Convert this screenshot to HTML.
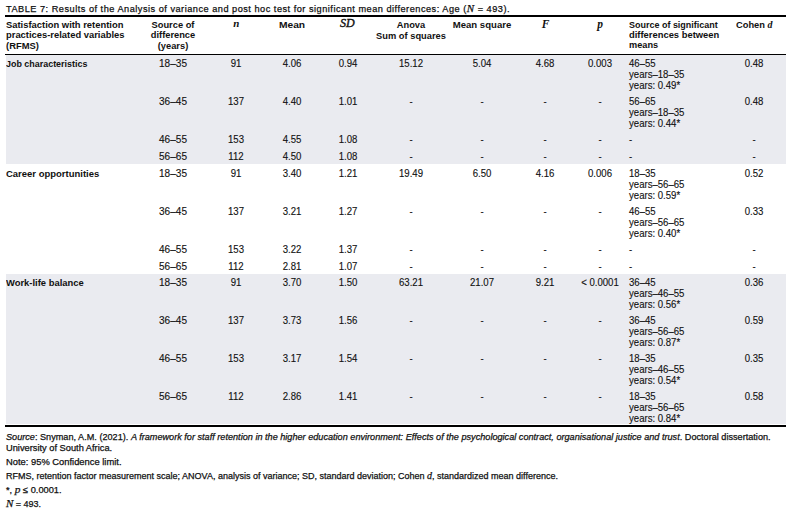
<!DOCTYPE html>
<html><head><meta charset="utf-8"><style>
html,body{margin:0;padding:0;background:#fff;}
body{width:792px;height:511px;position:relative;overflow:hidden;font-family:"Liberation Sans",sans-serif;color:#111;}
.t{position:absolute;white-space:nowrap;}
.r{position:absolute;}
.m{font-family:"Liberation Serif",serif;font-style:italic;}
</style></head><body>
<div class="r" style="left:6px;top:55px;width:780px;height:109px;background:#eaebf0"></div>
<div class="r" style="left:6px;top:274px;width:780px;height:150px;background:#eaebf0"></div>
<div class="r" style="left:5px;top:15px;width:781px;height:2px;background:#000"></div>
<div class="r" style="left:5px;top:54px;width:781px;height:1px;background:#000"></div>
<div class="r" style="left:5px;top:425px;width:781px;height:2px;background:#000"></div>
<div class="t" style="top:3.31px;left:6.00px;font-size:9.2px;line-height:11px;letter-spacing:0.5px;-webkit-text-stroke:0.25px #111;">TABLE 7: Results of the Analysis of variance and post hoc test for significant mean differences: Age (<span class="m" style="font-size:11px">N</span> = 493).</div>
<div class="t" style="top:19.93px;left:6.00px;font-size:9.8px;line-height:10.35px;font-weight:bold;transform:scaleX(0.9585);transform-origin:0 0;">Satisfaction with retention<br>practices-related variables<br>(RFMS)</div>
<div class="t" style="top:19.80px;left:23.40px;width:300px;text-align:center;font-size:9.8px;line-height:10.6px;font-weight:bold;transform:scaleX(0.9490);transform-origin:50% 0;">Source of<br>difference<br>(years)</div>
<div class="t" style="top:18.29px;left:86.40px;width:300px;text-align:center;font-size:11px;line-height:11px;font-weight:bold;font-style:italic;font-family:'Liberation Serif',serif;">n</div>
<div class="t" style="top:19.40px;left:142.40px;width:300px;text-align:center;font-size:9.8px;line-height:11px;font-weight:bold;transform:scaleX(1.0439);transform-origin:50% 0;">Mean</div>
<div class="t" style="top:18.34px;left:197.40px;width:300px;text-align:center;font-size:12px;line-height:11px;font-style:italic;font-family:'Liberation Serif',serif;-webkit-text-stroke:0.4px #111;">SD</div>
<div class="t" style="top:19.40px;left:260.80px;width:300px;text-align:center;font-size:9.8px;line-height:11px;font-weight:bold;transform:scaleX(0.9490);transform-origin:50% 0;">Anova<br>Sum of squares</div>
<div class="t" style="top:19.40px;left:331.60px;width:300px;text-align:center;font-size:9.8px;line-height:11px;font-weight:bold;transform:scaleX(0.9774);transform-origin:50% 0;">Mean square</div>
<div class="t" style="top:18.62px;left:395.50px;width:300px;text-align:center;font-size:11.5px;line-height:11px;font-weight:bold;font-style:italic;font-family:'Liberation Serif',serif;">F</div>
<div class="t" style="top:19.02px;left:450.00px;width:300px;text-align:center;font-size:11.5px;line-height:11px;font-weight:bold;font-style:italic;font-family:'Liberation Serif',serif;">p</div>
<div class="t" style="top:19.40px;left:628.70px;font-size:9.8px;line-height:11px;font-weight:bold;transform:scaleX(0.9160);transform-origin:0 0;">Source of significant</div>
<div class="t" style="top:29.20px;left:628.70px;font-size:9.8px;line-height:11px;font-weight:bold;transform:scaleX(0.9583);transform-origin:0 0;">differences between</div>
<div class="t" style="top:39.20px;left:628.70px;font-size:9.8px;line-height:11px;font-weight:bold;transform:scaleX(0.9395);transform-origin:0 0;">means</div>
<div class="t" style="top:19.40px;left:736.20px;font-size:9.8px;line-height:11px;font-weight:bold;transform:scaleX(0.9490);transform-origin:0 0;">Cohen <span class="m" style="font-size:10.5px">d</span></div>
<div class="t" style="top:58.10px;left:6.00px;font-size:9.8px;line-height:11px;font-weight:bold;transform:scaleX(0.9110);transform-origin:0 0;">Job characteristics</div>
<div class="t" style="top:58.00px;left:23.20px;width:300px;text-align:center;font-size:10.1px;line-height:11px;-webkit-text-stroke:0.12px #111;transform:scaleX(0.9975);transform-origin:50% 0;">18–35</div>
<div class="t" style="top:58.00px;left:86.40px;width:300px;text-align:center;font-size:10.1px;line-height:11px;-webkit-text-stroke:0.12px #111;transform:scaleX(0.9500);transform-origin:50% 0;">91</div>
<div class="t" style="top:58.00px;left:142.10px;width:300px;text-align:center;font-size:10.1px;line-height:11px;-webkit-text-stroke:0.12px #111;transform:scaleX(0.9500);transform-origin:50% 0;">4.06</div>
<div class="t" style="top:58.00px;left:197.60px;width:300px;text-align:center;font-size:10.1px;line-height:11px;-webkit-text-stroke:0.12px #111;transform:scaleX(0.9500);transform-origin:50% 0;">0.94</div>
<div class="t" style="top:58.00px;left:261.00px;width:300px;text-align:center;font-size:10.1px;line-height:11px;-webkit-text-stroke:0.12px #111;transform:scaleX(0.9500);transform-origin:50% 0;">15.12</div>
<div class="t" style="top:58.00px;left:331.80px;width:300px;text-align:center;font-size:10.1px;line-height:11px;-webkit-text-stroke:0.12px #111;transform:scaleX(0.9500);transform-origin:50% 0;">5.04</div>
<div class="t" style="top:58.00px;left:394.90px;width:300px;text-align:center;font-size:10.1px;line-height:11px;-webkit-text-stroke:0.12px #111;transform:scaleX(0.9500);transform-origin:50% 0;">4.68</div>
<div class="t" style="top:58.00px;left:450.20px;width:300px;text-align:center;font-size:10.1px;line-height:11px;-webkit-text-stroke:0.12px #111;transform:scaleX(0.9500);transform-origin:50% 0;">0.003</div>
<div class="t" style="top:58.00px;left:628.60px;font-size:10.1px;line-height:11px;-webkit-text-stroke:0.12px #111;transform:scaleX(0.9500);transform-origin:0 0;">46–55<br>years–18–35<br>years: 0.49*</div>
<div class="t" style="top:58.00px;left:603.70px;width:300px;text-align:center;font-size:10.1px;line-height:11px;-webkit-text-stroke:0.12px #111;transform:scaleX(0.9500);transform-origin:50% 0;">0.48</div>
<div class="t" style="top:96.00px;left:23.20px;width:300px;text-align:center;font-size:10.1px;line-height:11px;-webkit-text-stroke:0.12px #111;transform:scaleX(0.9975);transform-origin:50% 0;">36–45</div>
<div class="t" style="top:96.00px;left:86.40px;width:300px;text-align:center;font-size:10.1px;line-height:11px;-webkit-text-stroke:0.12px #111;transform:scaleX(0.9500);transform-origin:50% 0;">137</div>
<div class="t" style="top:96.00px;left:142.10px;width:300px;text-align:center;font-size:10.1px;line-height:11px;-webkit-text-stroke:0.12px #111;transform:scaleX(0.9500);transform-origin:50% 0;">4.40</div>
<div class="t" style="top:96.00px;left:197.60px;width:300px;text-align:center;font-size:10.1px;line-height:11px;-webkit-text-stroke:0.12px #111;transform:scaleX(0.9500);transform-origin:50% 0;">1.01</div>
<div class="t" style="top:96.00px;left:261.00px;width:300px;text-align:center;font-size:10.1px;line-height:11px;-webkit-text-stroke:0.12px #111;transform:scaleX(0.9500);transform-origin:50% 0;">-</div>
<div class="t" style="top:96.00px;left:331.80px;width:300px;text-align:center;font-size:10.1px;line-height:11px;-webkit-text-stroke:0.12px #111;transform:scaleX(0.9500);transform-origin:50% 0;">-</div>
<div class="t" style="top:96.00px;left:394.90px;width:300px;text-align:center;font-size:10.1px;line-height:11px;-webkit-text-stroke:0.12px #111;transform:scaleX(0.9500);transform-origin:50% 0;">-</div>
<div class="t" style="top:96.00px;left:450.20px;width:300px;text-align:center;font-size:10.1px;line-height:11px;-webkit-text-stroke:0.12px #111;transform:scaleX(0.9500);transform-origin:50% 0;">-</div>
<div class="t" style="top:96.00px;left:628.60px;font-size:10.1px;line-height:11px;-webkit-text-stroke:0.12px #111;transform:scaleX(0.9500);transform-origin:0 0;">56–65<br>years–18–35<br>years: 0.44*</div>
<div class="t" style="top:96.00px;left:603.70px;width:300px;text-align:center;font-size:10.1px;line-height:11px;-webkit-text-stroke:0.12px #111;transform:scaleX(0.9500);transform-origin:50% 0;">0.48</div>
<div class="t" style="top:134.00px;left:23.20px;width:300px;text-align:center;font-size:10.1px;line-height:11px;-webkit-text-stroke:0.12px #111;transform:scaleX(0.9975);transform-origin:50% 0;">46–55</div>
<div class="t" style="top:134.00px;left:86.40px;width:300px;text-align:center;font-size:10.1px;line-height:11px;-webkit-text-stroke:0.12px #111;transform:scaleX(0.9500);transform-origin:50% 0;">153</div>
<div class="t" style="top:134.00px;left:142.10px;width:300px;text-align:center;font-size:10.1px;line-height:11px;-webkit-text-stroke:0.12px #111;transform:scaleX(0.9500);transform-origin:50% 0;">4.55</div>
<div class="t" style="top:134.00px;left:197.60px;width:300px;text-align:center;font-size:10.1px;line-height:11px;-webkit-text-stroke:0.12px #111;transform:scaleX(0.9500);transform-origin:50% 0;">1.08</div>
<div class="t" style="top:134.00px;left:261.00px;width:300px;text-align:center;font-size:10.1px;line-height:11px;-webkit-text-stroke:0.12px #111;transform:scaleX(0.9500);transform-origin:50% 0;">-</div>
<div class="t" style="top:134.00px;left:331.80px;width:300px;text-align:center;font-size:10.1px;line-height:11px;-webkit-text-stroke:0.12px #111;transform:scaleX(0.9500);transform-origin:50% 0;">-</div>
<div class="t" style="top:134.00px;left:394.90px;width:300px;text-align:center;font-size:10.1px;line-height:11px;-webkit-text-stroke:0.12px #111;transform:scaleX(0.9500);transform-origin:50% 0;">-</div>
<div class="t" style="top:134.00px;left:450.20px;width:300px;text-align:center;font-size:10.1px;line-height:11px;-webkit-text-stroke:0.12px #111;transform:scaleX(0.9500);transform-origin:50% 0;">-</div>
<div class="t" style="top:134.00px;left:628.60px;font-size:10.1px;line-height:11px;-webkit-text-stroke:0.12px #111;transform:scaleX(0.9500);transform-origin:0 0;">-</div>
<div class="t" style="top:134.00px;left:603.70px;width:300px;text-align:center;font-size:10.1px;line-height:11px;-webkit-text-stroke:0.12px #111;transform:scaleX(0.9500);transform-origin:50% 0;">-</div>
<div class="t" style="top:150.60px;left:23.20px;width:300px;text-align:center;font-size:10.1px;line-height:11px;-webkit-text-stroke:0.12px #111;transform:scaleX(0.9975);transform-origin:50% 0;">56–65</div>
<div class="t" style="top:150.60px;left:86.40px;width:300px;text-align:center;font-size:10.1px;line-height:11px;-webkit-text-stroke:0.12px #111;transform:scaleX(0.9500);transform-origin:50% 0;">112</div>
<div class="t" style="top:150.60px;left:142.10px;width:300px;text-align:center;font-size:10.1px;line-height:11px;-webkit-text-stroke:0.12px #111;transform:scaleX(0.9500);transform-origin:50% 0;">4.50</div>
<div class="t" style="top:150.60px;left:197.60px;width:300px;text-align:center;font-size:10.1px;line-height:11px;-webkit-text-stroke:0.12px #111;transform:scaleX(0.9500);transform-origin:50% 0;">1.08</div>
<div class="t" style="top:150.60px;left:261.00px;width:300px;text-align:center;font-size:10.1px;line-height:11px;-webkit-text-stroke:0.12px #111;transform:scaleX(0.9500);transform-origin:50% 0;">-</div>
<div class="t" style="top:150.60px;left:331.80px;width:300px;text-align:center;font-size:10.1px;line-height:11px;-webkit-text-stroke:0.12px #111;transform:scaleX(0.9500);transform-origin:50% 0;">-</div>
<div class="t" style="top:150.60px;left:394.90px;width:300px;text-align:center;font-size:10.1px;line-height:11px;-webkit-text-stroke:0.12px #111;transform:scaleX(0.9500);transform-origin:50% 0;">-</div>
<div class="t" style="top:150.60px;left:450.20px;width:300px;text-align:center;font-size:10.1px;line-height:11px;-webkit-text-stroke:0.12px #111;transform:scaleX(0.9500);transform-origin:50% 0;">-</div>
<div class="t" style="top:150.60px;left:628.60px;font-size:10.1px;line-height:11px;-webkit-text-stroke:0.12px #111;transform:scaleX(0.9500);transform-origin:0 0;">-</div>
<div class="t" style="top:150.60px;left:603.70px;width:300px;text-align:center;font-size:10.1px;line-height:11px;-webkit-text-stroke:0.12px #111;transform:scaleX(0.9500);transform-origin:50% 0;">-</div>
<div class="t" style="top:168.10px;left:6.00px;font-size:9.8px;line-height:11px;font-weight:bold;transform:scaleX(0.9680);transform-origin:0 0;">Career opportunities</div>
<div class="t" style="top:168.00px;left:23.20px;width:300px;text-align:center;font-size:10.1px;line-height:11px;-webkit-text-stroke:0.12px #111;transform:scaleX(0.9975);transform-origin:50% 0;">18–35</div>
<div class="t" style="top:168.00px;left:86.40px;width:300px;text-align:center;font-size:10.1px;line-height:11px;-webkit-text-stroke:0.12px #111;transform:scaleX(0.9500);transform-origin:50% 0;">91</div>
<div class="t" style="top:168.00px;left:142.10px;width:300px;text-align:center;font-size:10.1px;line-height:11px;-webkit-text-stroke:0.12px #111;transform:scaleX(0.9500);transform-origin:50% 0;">3.40</div>
<div class="t" style="top:168.00px;left:197.60px;width:300px;text-align:center;font-size:10.1px;line-height:11px;-webkit-text-stroke:0.12px #111;transform:scaleX(0.9500);transform-origin:50% 0;">1.21</div>
<div class="t" style="top:168.00px;left:261.00px;width:300px;text-align:center;font-size:10.1px;line-height:11px;-webkit-text-stroke:0.12px #111;transform:scaleX(0.9500);transform-origin:50% 0;">19.49</div>
<div class="t" style="top:168.00px;left:331.80px;width:300px;text-align:center;font-size:10.1px;line-height:11px;-webkit-text-stroke:0.12px #111;transform:scaleX(0.9500);transform-origin:50% 0;">6.50</div>
<div class="t" style="top:168.00px;left:394.90px;width:300px;text-align:center;font-size:10.1px;line-height:11px;-webkit-text-stroke:0.12px #111;transform:scaleX(0.9500);transform-origin:50% 0;">4.16</div>
<div class="t" style="top:168.00px;left:450.20px;width:300px;text-align:center;font-size:10.1px;line-height:11px;-webkit-text-stroke:0.12px #111;transform:scaleX(0.9500);transform-origin:50% 0;">0.006</div>
<div class="t" style="top:168.00px;left:628.60px;font-size:10.1px;line-height:11px;-webkit-text-stroke:0.12px #111;transform:scaleX(0.9500);transform-origin:0 0;">18–35<br>years–56–65<br>years: 0.59*</div>
<div class="t" style="top:168.00px;left:603.70px;width:300px;text-align:center;font-size:10.1px;line-height:11px;-webkit-text-stroke:0.12px #111;transform:scaleX(0.9500);transform-origin:50% 0;">0.52</div>
<div class="t" style="top:206.00px;left:23.20px;width:300px;text-align:center;font-size:10.1px;line-height:11px;-webkit-text-stroke:0.12px #111;transform:scaleX(0.9975);transform-origin:50% 0;">36–45</div>
<div class="t" style="top:206.00px;left:86.40px;width:300px;text-align:center;font-size:10.1px;line-height:11px;-webkit-text-stroke:0.12px #111;transform:scaleX(0.9500);transform-origin:50% 0;">137</div>
<div class="t" style="top:206.00px;left:142.10px;width:300px;text-align:center;font-size:10.1px;line-height:11px;-webkit-text-stroke:0.12px #111;transform:scaleX(0.9500);transform-origin:50% 0;">3.21</div>
<div class="t" style="top:206.00px;left:197.60px;width:300px;text-align:center;font-size:10.1px;line-height:11px;-webkit-text-stroke:0.12px #111;transform:scaleX(0.9500);transform-origin:50% 0;">1.27</div>
<div class="t" style="top:206.00px;left:261.00px;width:300px;text-align:center;font-size:10.1px;line-height:11px;-webkit-text-stroke:0.12px #111;transform:scaleX(0.9500);transform-origin:50% 0;">-</div>
<div class="t" style="top:206.00px;left:331.80px;width:300px;text-align:center;font-size:10.1px;line-height:11px;-webkit-text-stroke:0.12px #111;transform:scaleX(0.9500);transform-origin:50% 0;">-</div>
<div class="t" style="top:206.00px;left:394.90px;width:300px;text-align:center;font-size:10.1px;line-height:11px;-webkit-text-stroke:0.12px #111;transform:scaleX(0.9500);transform-origin:50% 0;">-</div>
<div class="t" style="top:206.00px;left:450.20px;width:300px;text-align:center;font-size:10.1px;line-height:11px;-webkit-text-stroke:0.12px #111;transform:scaleX(0.9500);transform-origin:50% 0;">-</div>
<div class="t" style="top:206.00px;left:628.60px;font-size:10.1px;line-height:11px;-webkit-text-stroke:0.12px #111;transform:scaleX(0.9500);transform-origin:0 0;">46–55<br>years–56–65<br>years: 0.40*</div>
<div class="t" style="top:206.00px;left:603.70px;width:300px;text-align:center;font-size:10.1px;line-height:11px;-webkit-text-stroke:0.12px #111;transform:scaleX(0.9500);transform-origin:50% 0;">0.33</div>
<div class="t" style="top:244.00px;left:23.20px;width:300px;text-align:center;font-size:10.1px;line-height:11px;-webkit-text-stroke:0.12px #111;transform:scaleX(0.9975);transform-origin:50% 0;">46–55</div>
<div class="t" style="top:244.00px;left:86.40px;width:300px;text-align:center;font-size:10.1px;line-height:11px;-webkit-text-stroke:0.12px #111;transform:scaleX(0.9500);transform-origin:50% 0;">153</div>
<div class="t" style="top:244.00px;left:142.10px;width:300px;text-align:center;font-size:10.1px;line-height:11px;-webkit-text-stroke:0.12px #111;transform:scaleX(0.9500);transform-origin:50% 0;">3.22</div>
<div class="t" style="top:244.00px;left:197.60px;width:300px;text-align:center;font-size:10.1px;line-height:11px;-webkit-text-stroke:0.12px #111;transform:scaleX(0.9500);transform-origin:50% 0;">1.37</div>
<div class="t" style="top:244.00px;left:261.00px;width:300px;text-align:center;font-size:10.1px;line-height:11px;-webkit-text-stroke:0.12px #111;transform:scaleX(0.9500);transform-origin:50% 0;">-</div>
<div class="t" style="top:244.00px;left:331.80px;width:300px;text-align:center;font-size:10.1px;line-height:11px;-webkit-text-stroke:0.12px #111;transform:scaleX(0.9500);transform-origin:50% 0;">-</div>
<div class="t" style="top:244.00px;left:394.90px;width:300px;text-align:center;font-size:10.1px;line-height:11px;-webkit-text-stroke:0.12px #111;transform:scaleX(0.9500);transform-origin:50% 0;">-</div>
<div class="t" style="top:244.00px;left:450.20px;width:300px;text-align:center;font-size:10.1px;line-height:11px;-webkit-text-stroke:0.12px #111;transform:scaleX(0.9500);transform-origin:50% 0;">-</div>
<div class="t" style="top:244.00px;left:628.60px;font-size:10.1px;line-height:11px;-webkit-text-stroke:0.12px #111;transform:scaleX(0.9500);transform-origin:0 0;">-</div>
<div class="t" style="top:244.00px;left:603.70px;width:300px;text-align:center;font-size:10.1px;line-height:11px;-webkit-text-stroke:0.12px #111;transform:scaleX(0.9500);transform-origin:50% 0;">-</div>
<div class="t" style="top:261.00px;left:23.20px;width:300px;text-align:center;font-size:10.1px;line-height:11px;-webkit-text-stroke:0.12px #111;transform:scaleX(0.9975);transform-origin:50% 0;">56–65</div>
<div class="t" style="top:261.00px;left:86.40px;width:300px;text-align:center;font-size:10.1px;line-height:11px;-webkit-text-stroke:0.12px #111;transform:scaleX(0.9500);transform-origin:50% 0;">112</div>
<div class="t" style="top:261.00px;left:142.10px;width:300px;text-align:center;font-size:10.1px;line-height:11px;-webkit-text-stroke:0.12px #111;transform:scaleX(0.9500);transform-origin:50% 0;">2.81</div>
<div class="t" style="top:261.00px;left:197.60px;width:300px;text-align:center;font-size:10.1px;line-height:11px;-webkit-text-stroke:0.12px #111;transform:scaleX(0.9500);transform-origin:50% 0;">1.07</div>
<div class="t" style="top:261.00px;left:261.00px;width:300px;text-align:center;font-size:10.1px;line-height:11px;-webkit-text-stroke:0.12px #111;transform:scaleX(0.9500);transform-origin:50% 0;">-</div>
<div class="t" style="top:261.00px;left:331.80px;width:300px;text-align:center;font-size:10.1px;line-height:11px;-webkit-text-stroke:0.12px #111;transform:scaleX(0.9500);transform-origin:50% 0;">-</div>
<div class="t" style="top:261.00px;left:394.90px;width:300px;text-align:center;font-size:10.1px;line-height:11px;-webkit-text-stroke:0.12px #111;transform:scaleX(0.9500);transform-origin:50% 0;">-</div>
<div class="t" style="top:261.00px;left:450.20px;width:300px;text-align:center;font-size:10.1px;line-height:11px;-webkit-text-stroke:0.12px #111;transform:scaleX(0.9500);transform-origin:50% 0;">-</div>
<div class="t" style="top:261.00px;left:628.60px;font-size:10.1px;line-height:11px;-webkit-text-stroke:0.12px #111;transform:scaleX(0.9500);transform-origin:0 0;">-</div>
<div class="t" style="top:261.00px;left:603.70px;width:300px;text-align:center;font-size:10.1px;line-height:11px;-webkit-text-stroke:0.12px #111;transform:scaleX(0.9500);transform-origin:50% 0;">-</div>
<div class="t" style="top:277.10px;left:6.00px;font-size:9.8px;line-height:11px;font-weight:bold;transform:scaleX(0.9604);transform-origin:0 0;">Work-life balance</div>
<div class="t" style="top:277.00px;left:23.20px;width:300px;text-align:center;font-size:10.1px;line-height:11px;-webkit-text-stroke:0.12px #111;transform:scaleX(0.9975);transform-origin:50% 0;">18–35</div>
<div class="t" style="top:277.00px;left:86.40px;width:300px;text-align:center;font-size:10.1px;line-height:11px;-webkit-text-stroke:0.12px #111;transform:scaleX(0.9500);transform-origin:50% 0;">91</div>
<div class="t" style="top:277.00px;left:142.10px;width:300px;text-align:center;font-size:10.1px;line-height:11px;-webkit-text-stroke:0.12px #111;transform:scaleX(0.9500);transform-origin:50% 0;">3.70</div>
<div class="t" style="top:277.00px;left:197.60px;width:300px;text-align:center;font-size:10.1px;line-height:11px;-webkit-text-stroke:0.12px #111;transform:scaleX(0.9500);transform-origin:50% 0;">1.50</div>
<div class="t" style="top:277.00px;left:261.00px;width:300px;text-align:center;font-size:10.1px;line-height:11px;-webkit-text-stroke:0.12px #111;transform:scaleX(0.9500);transform-origin:50% 0;">63.21</div>
<div class="t" style="top:277.00px;left:331.80px;width:300px;text-align:center;font-size:10.1px;line-height:11px;-webkit-text-stroke:0.12px #111;transform:scaleX(0.9500);transform-origin:50% 0;">21.07</div>
<div class="t" style="top:277.00px;left:394.90px;width:300px;text-align:center;font-size:10.1px;line-height:11px;-webkit-text-stroke:0.12px #111;transform:scaleX(0.9500);transform-origin:50% 0;">9.21</div>
<div class="t" style="top:277.00px;left:450.20px;width:300px;text-align:center;font-size:10.1px;line-height:11px;-webkit-text-stroke:0.12px #111;transform:scaleX(0.9500);transform-origin:50% 0;">&lt; 0.0001</div>
<div class="t" style="top:277.00px;left:628.60px;font-size:10.1px;line-height:11px;-webkit-text-stroke:0.12px #111;transform:scaleX(0.9500);transform-origin:0 0;">36–45<br>years–46–55<br>years: 0.56*</div>
<div class="t" style="top:277.00px;left:603.70px;width:300px;text-align:center;font-size:10.1px;line-height:11px;-webkit-text-stroke:0.12px #111;transform:scaleX(0.9500);transform-origin:50% 0;">0.36</div>
<div class="t" style="top:315.00px;left:23.20px;width:300px;text-align:center;font-size:10.1px;line-height:11px;-webkit-text-stroke:0.12px #111;transform:scaleX(0.9975);transform-origin:50% 0;">36–45</div>
<div class="t" style="top:315.00px;left:86.40px;width:300px;text-align:center;font-size:10.1px;line-height:11px;-webkit-text-stroke:0.12px #111;transform:scaleX(0.9500);transform-origin:50% 0;">137</div>
<div class="t" style="top:315.00px;left:142.10px;width:300px;text-align:center;font-size:10.1px;line-height:11px;-webkit-text-stroke:0.12px #111;transform:scaleX(0.9500);transform-origin:50% 0;">3.73</div>
<div class="t" style="top:315.00px;left:197.60px;width:300px;text-align:center;font-size:10.1px;line-height:11px;-webkit-text-stroke:0.12px #111;transform:scaleX(0.9500);transform-origin:50% 0;">1.56</div>
<div class="t" style="top:315.00px;left:261.00px;width:300px;text-align:center;font-size:10.1px;line-height:11px;-webkit-text-stroke:0.12px #111;transform:scaleX(0.9500);transform-origin:50% 0;">-</div>
<div class="t" style="top:315.00px;left:331.80px;width:300px;text-align:center;font-size:10.1px;line-height:11px;-webkit-text-stroke:0.12px #111;transform:scaleX(0.9500);transform-origin:50% 0;">-</div>
<div class="t" style="top:315.00px;left:394.90px;width:300px;text-align:center;font-size:10.1px;line-height:11px;-webkit-text-stroke:0.12px #111;transform:scaleX(0.9500);transform-origin:50% 0;">-</div>
<div class="t" style="top:315.00px;left:450.20px;width:300px;text-align:center;font-size:10.1px;line-height:11px;-webkit-text-stroke:0.12px #111;transform:scaleX(0.9500);transform-origin:50% 0;">-</div>
<div class="t" style="top:315.00px;left:628.60px;font-size:10.1px;line-height:11px;-webkit-text-stroke:0.12px #111;transform:scaleX(0.9500);transform-origin:0 0;">36–45<br>years–56–65<br>years: 0.87*</div>
<div class="t" style="top:315.00px;left:603.70px;width:300px;text-align:center;font-size:10.1px;line-height:11px;-webkit-text-stroke:0.12px #111;transform:scaleX(0.9500);transform-origin:50% 0;">0.59</div>
<div class="t" style="top:353.00px;left:23.20px;width:300px;text-align:center;font-size:10.1px;line-height:11px;-webkit-text-stroke:0.12px #111;transform:scaleX(0.9975);transform-origin:50% 0;">46–55</div>
<div class="t" style="top:353.00px;left:86.40px;width:300px;text-align:center;font-size:10.1px;line-height:11px;-webkit-text-stroke:0.12px #111;transform:scaleX(0.9500);transform-origin:50% 0;">153</div>
<div class="t" style="top:353.00px;left:142.10px;width:300px;text-align:center;font-size:10.1px;line-height:11px;-webkit-text-stroke:0.12px #111;transform:scaleX(0.9500);transform-origin:50% 0;">3.17</div>
<div class="t" style="top:353.00px;left:197.60px;width:300px;text-align:center;font-size:10.1px;line-height:11px;-webkit-text-stroke:0.12px #111;transform:scaleX(0.9500);transform-origin:50% 0;">1.54</div>
<div class="t" style="top:353.00px;left:261.00px;width:300px;text-align:center;font-size:10.1px;line-height:11px;-webkit-text-stroke:0.12px #111;transform:scaleX(0.9500);transform-origin:50% 0;">-</div>
<div class="t" style="top:353.00px;left:331.80px;width:300px;text-align:center;font-size:10.1px;line-height:11px;-webkit-text-stroke:0.12px #111;transform:scaleX(0.9500);transform-origin:50% 0;">-</div>
<div class="t" style="top:353.00px;left:394.90px;width:300px;text-align:center;font-size:10.1px;line-height:11px;-webkit-text-stroke:0.12px #111;transform:scaleX(0.9500);transform-origin:50% 0;">-</div>
<div class="t" style="top:353.00px;left:450.20px;width:300px;text-align:center;font-size:10.1px;line-height:11px;-webkit-text-stroke:0.12px #111;transform:scaleX(0.9500);transform-origin:50% 0;">-</div>
<div class="t" style="top:353.00px;left:628.60px;font-size:10.1px;line-height:11px;-webkit-text-stroke:0.12px #111;transform:scaleX(0.9500);transform-origin:0 0;">18–35<br>years–46–55<br>years: 0.54*</div>
<div class="t" style="top:353.00px;left:603.70px;width:300px;text-align:center;font-size:10.1px;line-height:11px;-webkit-text-stroke:0.12px #111;transform:scaleX(0.9500);transform-origin:50% 0;">0.35</div>
<div class="t" style="top:391.00px;left:23.20px;width:300px;text-align:center;font-size:10.1px;line-height:11px;-webkit-text-stroke:0.12px #111;transform:scaleX(0.9975);transform-origin:50% 0;">56–65</div>
<div class="t" style="top:391.00px;left:86.40px;width:300px;text-align:center;font-size:10.1px;line-height:11px;-webkit-text-stroke:0.12px #111;transform:scaleX(0.9500);transform-origin:50% 0;">112</div>
<div class="t" style="top:391.00px;left:142.10px;width:300px;text-align:center;font-size:10.1px;line-height:11px;-webkit-text-stroke:0.12px #111;transform:scaleX(0.9500);transform-origin:50% 0;">2.86</div>
<div class="t" style="top:391.00px;left:197.60px;width:300px;text-align:center;font-size:10.1px;line-height:11px;-webkit-text-stroke:0.12px #111;transform:scaleX(0.9500);transform-origin:50% 0;">1.41</div>
<div class="t" style="top:391.00px;left:261.00px;width:300px;text-align:center;font-size:10.1px;line-height:11px;-webkit-text-stroke:0.12px #111;transform:scaleX(0.9500);transform-origin:50% 0;">-</div>
<div class="t" style="top:391.00px;left:331.80px;width:300px;text-align:center;font-size:10.1px;line-height:11px;-webkit-text-stroke:0.12px #111;transform:scaleX(0.9500);transform-origin:50% 0;">-</div>
<div class="t" style="top:391.00px;left:394.90px;width:300px;text-align:center;font-size:10.1px;line-height:11px;-webkit-text-stroke:0.12px #111;transform:scaleX(0.9500);transform-origin:50% 0;">-</div>
<div class="t" style="top:391.00px;left:450.20px;width:300px;text-align:center;font-size:10.1px;line-height:11px;-webkit-text-stroke:0.12px #111;transform:scaleX(0.9500);transform-origin:50% 0;">-</div>
<div class="t" style="top:391.00px;left:628.60px;font-size:10.1px;line-height:11px;-webkit-text-stroke:0.12px #111;transform:scaleX(0.9500);transform-origin:0 0;">18–35<br>years–56–65<br>years: 0.84*</div>
<div class="t" style="top:391.00px;left:603.70px;width:300px;text-align:center;font-size:10.1px;line-height:11px;-webkit-text-stroke:0.12px #111;transform:scaleX(0.9500);transform-origin:50% 0;">0.58</div>
<div class="t" style="top:431.78px;left:6.00px;font-size:9.0px;line-height:11px;-webkit-text-stroke:0.25px #111;transform:scaleX(1.0146);transform-origin:0 0;"><i>Source</i>: Snyman, A.M. (2021). <i>A framework for staff retention in the higher education environment: Effects of the psychological contract, organisational justice and trust</i>. Doctoral dissertation.</div>
<div class="t" style="top:442.58px;left:6.00px;font-size:9.0px;line-height:11px;-webkit-text-stroke:0.25px #111;transform:scaleX(1.0300);transform-origin:0 0;">University of South Africa.</div>
<div class="t" style="top:456.98px;left:6.00px;font-size:9.0px;line-height:11px;-webkit-text-stroke:0.25px #111;transform:scaleX(1.0400);transform-origin:0 0;">Note: 95% Confidence limit.</div>
<div class="t" style="top:469.78px;left:6.00px;font-size:9.0px;line-height:11px;-webkit-text-stroke:0.25px #111;">RFMS, retention factor measurement scale; ANOVA, analysis of variance; SD, standard deviation; Cohen <span class="m" style="font-size:10px">d</span>, standardized mean difference.</div>
<div class="t" style="top:484.48px;left:6.00px;font-size:9.0px;line-height:11px;-webkit-text-stroke:0.25px #111;transform:scaleX(1.0300);transform-origin:0 0;">*, <span class="m" style="font-size:11px">p</span> ≤ 0.0001.</div>
<div class="t" style="top:497.58px;left:6.00px;font-size:9.0px;line-height:11px;-webkit-text-stroke:0.25px #111;"><span class="m" style="font-size:11px">N</span> = 493.</div>
</body></html>
